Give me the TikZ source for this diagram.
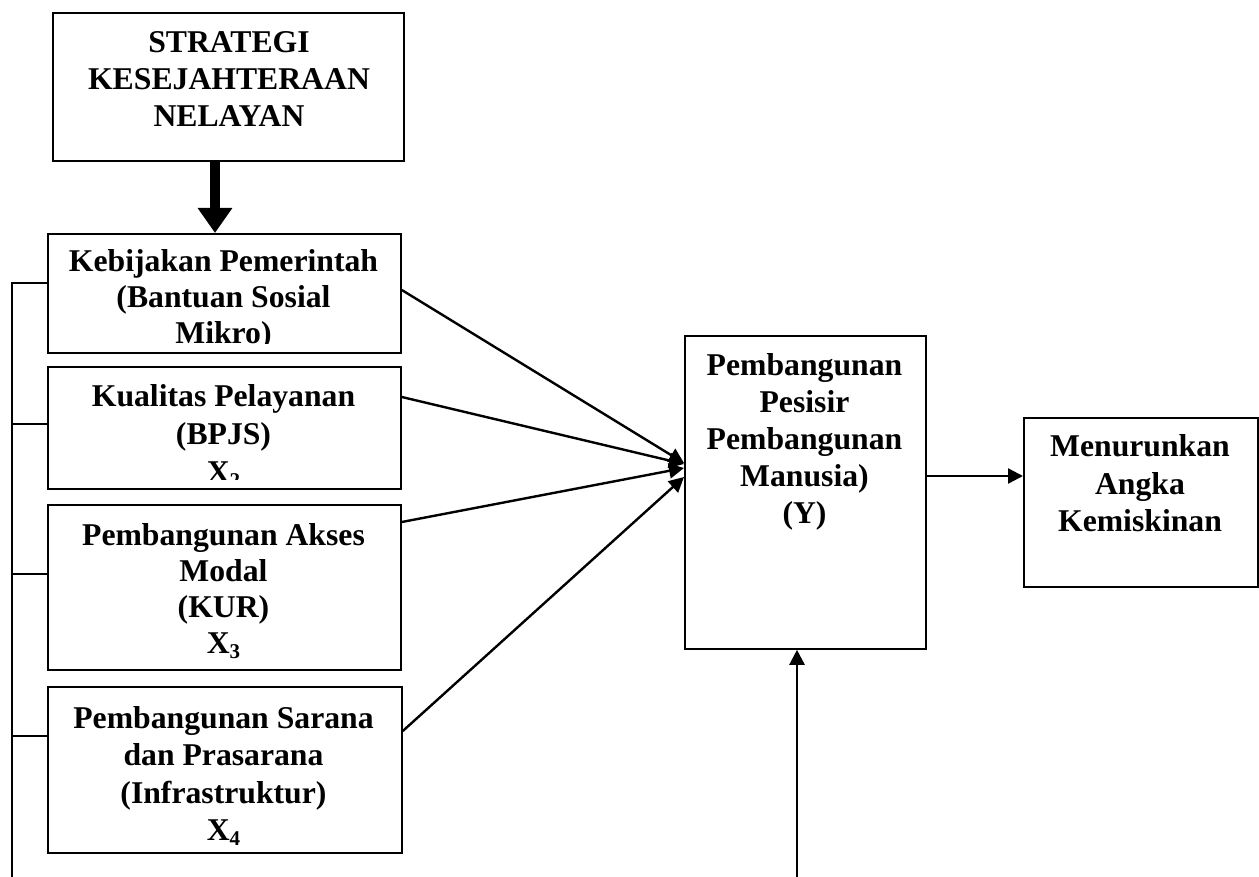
\documentclass[tikz,border=0pt]{standalone}
\usepackage{fontspec}
\setmainfont{Liberation Serif}
\usetikzlibrary{arrows.meta,calc}
\newcommand\firstln{\rule{0pt}{24pt}}
\newcommand\subx[1]{\raisebox{-5pt}{\fontsize{21}{21}\selectfont #1}}
\begin{document}
\begin{tikzpicture}[x=1pt,y=-1pt,
  box/.style={draw, line width=1.8pt, anchor=north west, inner sep=0pt},
  txt/.style={anchor=north, align=center, inner sep=0pt},
  arr/.style={line width=2.4pt, -{Triangle[length=15pt,width=15pt]}},
  bigarr/.style={line width=10pt, -{Triangle[length=25pt,width=33pt]}},
  brk/.style={line width=1.6pt}]
\useasboundingbox (0,0) rectangle (1259,877);

% top box
\node[box, minimum width=351pt, minimum height=148pt] (top) at (52,12) {};
\node[txt, font=\fontsize{31.7}{37}\selectfont\bfseries] (t0) at (229,28) {\firstln STRATEGI\\KESEJAHTERAAN\\NELAYAN};

% box 1
\node[box, minimum width=353pt, minimum height=119pt] (b1) at (47,233) {};
\begin{scope}
\clip (b1.north west) rectangle ($(b1.south east)+(0,-10)$);
\node[txt, font=\fontsize{31.7}{36}\selectfont\bfseries] (t1) at (223.5,247.5) {\firstln Kebijakan Pemerintah\\(Bantuan Sosial\\Mikro)};
\end{scope}

% box 2
\node[box, minimum width=353pt, minimum height=122pt] (b2) at (47,366) {};
\begin{scope}
\clip (b2.north west) rectangle ($(b2.south east)+(0,-10)$);
\node[txt, font=\fontsize{31.7}{38}\selectfont\bfseries] (t2) at (223.5,382.5) {\firstln Kualitas Pelayanan\\(BPJS)\\X\subx{2}};
\end{scope}

% box 3
\node[box, minimum width=353pt, minimum height=165pt] (b3) at (47,504) {};
\node[txt, font=\fontsize{31.7}{36}\selectfont\bfseries] (t3) at (223.5,521) {\firstln Pembangunan Akses\\Modal\\(KUR)\\X\subx{3}};

% box 4
\node[box, minimum width=354pt, minimum height=166pt] (b4) at (47,686) {};
\node[txt, font=\fontsize{31.7}{37.2}\selectfont\bfseries] (t4) at (223.5,704.5) {\firstln Pembangunan Sarana\\dan Prasarana\\(Infrastruktur)\\X\subx{4}};

% centre box
\node[box, minimum width=241pt, minimum height=313pt] (c) at (684,335) {};
\node[txt, font=\fontsize{31.7}{37}\selectfont\bfseries] (tc) at (804.5,351) {\firstln Pembangunan\\Pesisir\\Pembangunan\\Manusia)\\(Y)};

% right box
\node[box, minimum width=234pt, minimum height=169pt] (r) at (1023,417) {};
\node[txt, font=\fontsize{31.7}{37.5}\selectfont\bfseries] (tr) at (1140,432.5) {\firstln Menurunkan\\Angka\\Kemiskinan};

% connectors
\draw[bigarr] ($(top.south west)+(163,0)$) -- ($(b1.north west)+(168,0)$);
\draw[arr] ($(b1.north east)+(0,57)$) -- ($(c.north west)+(0,128)$);
\draw[arr] ($(b2.north east)+(0,31)$) -- ($(c.north west)+(0,129)$);
\draw[arr] ($(b3.north east)+(0,18)$) -- ($(c.north west)+(0,133)$);
\draw[arr] ($(b4.north east)+(0,45)$) -- ($(c.north west)+(0,142)$);
\draw[arr] ($(c.north east)+(0,141)$) -- ($(r.north west)+(0,59)$);
\coordinate (bot) at (797,877);
\draw[arr] (bot) -- (bot |- c.south);

% left bracket
\coordinate (s1) at (12,283);
\coordinate (s2) at (12,424);
\coordinate (s3) at (12,574);
\coordinate (s4) at (12,736);
\coordinate (sb) at (12,877);
\draw[brk] (sb) -- (s1) -- (s1 -| b1.west);
\draw[brk] (s2) -- (s2 -| b2.west);
\draw[brk] (s3) -- (s3 -| b3.west);
\draw[brk] (s4) -- (s4 -| b4.west);
\end{tikzpicture}
\end{document}
